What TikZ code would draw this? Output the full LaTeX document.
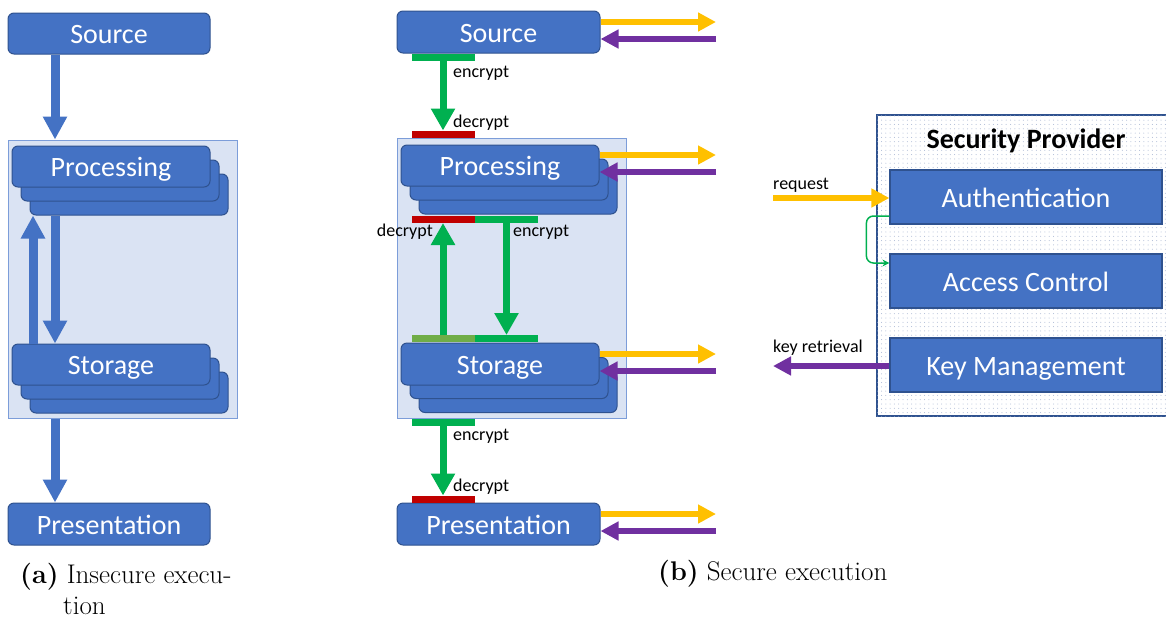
\documentclass[tikz,border=0pt]{standalone}
\usepackage{fontspec}
\newfontfamily\calibri{Carlito}
\usetikzlibrary{arrows.meta,patterns.meta}
\definecolor{boxblue}{HTML}{4472C4}
\definecolor{boxedge}{HTML}{2F528F}
\definecolor{contfill}{HTML}{DAE3F3}
\definecolor{contedge}{HTML}{7C9DD9}
\definecolor{encgreen}{HTML}{00B050}
\definecolor{decred}{HTML}{C00000}
\definecolor{olivegreen}{HTML}{70AD47}
\definecolor{reqyellow}{HTML}{FFC000}
\definecolor{keypurple}{HTML}{7030A0}
\definecolor{dotcol}{HTML}{A8B6D2}
\tikzset{
  box/.style={draw=boxedge, line width=1pt, fill=boxblue, rounded corners=6pt,
    minimum width=198pt, minimum height=41pt, inner sep=0pt, text=white,
    text height=20pt, text depth=0pt,
    font=\calibri\fontsize{28}{32}\selectfont},
  spbox/.style={draw=boxedge, line width=1.2pt, fill=boxblue, minimum width=272pt,
    minimum height=54pt, inner sep=0pt, text=white, text height=20pt, text depth=0pt,
    font=\calibri\fontsize{28}{32}\selectfont},
  cont/.style={draw=contedge, line width=1pt, fill=contfill, inner sep=0pt},
  bar/.style={minimum width=63pt, minimum height=7pt, inner sep=0pt, outer sep=0pt},
  bluearrow/.style={draw=boxblue, line width=9pt, -{Triangle[length=23pt,width=23pt]}},
  greenarrow/.style={draw=encgreen, line width=7pt, -{Triangle[length=22pt,width=23pt]}},
  yarrow/.style={draw=reqyellow, line width=6pt, -{Triangle[length=18pt,width=18pt]}},
  parrow/.style={draw=keypurple, line width=6pt, -{Triangle[length=18pt,width=18pt]}},
  lbl/.style={font=\calibri\fontsize{18}{20}\selectfont, inner sep=0pt},
  captxt/.style={font=\fontsize{27}{32}\selectfont, inner sep=0pt, anchor=base west},
}
\begin{document}
\begin{tikzpicture}[x=1pt,y=-1pt]
\useasboundingbox (0,0) rectangle (1166,619);
% ---------- (a) ----------
\coordinate (xa0) at (33,0);
\coordinate (xa1) at (55,0);
\node[cont, minimum width=229pt, minimum height=278pt] (contA) at (122.5,279) {};
\node[box] (procA3) at (129,194.5) {};
\node[box] (procA2) at (120,180.5) {};
\node[box] (procA) at (111,166.5) {Processing};
\node[box] (stoA3) at (129,392.5) {};
\node[box] (stoA2) at (120,378.5) {};
\node[box] (stoA) at (111,364.5) {Storage};
\node[box, minimum width=202pt] (srcA) at (109,33.5) {Source};
\node[box, minimum width=202pt, minimum height=42pt] (presA) at (109,524) {Presentation};
\draw[bluearrow] (srcA.south -| xa1) -- (contA.north -| xa1);
\draw[bluearrow] (stoA.north -| xa0) -- (procA3.south -| xa0);
\draw[bluearrow] (procA3.south -| xa1) -- (stoA.north -| xa1);
\draw[bluearrow] (contA.south -| xa1) -- (presA.north -| xa1);
\node[captxt] (capA1) at (20,583) {\textbf{(a)} Insecure execu-};
\node[captxt] (capA2) at (63,614) {tion};
% ---------- (b) ----------
\coordinate (xb1) at (443,0);
\coordinate (xb2) at (507,0);
\node[cont, minimum width=229pt, minimum height=280pt] (contB) at (511.5,278) {};
\node[box] (procB3) at (518,193.5) {};
\node[box] (procB2) at (509,179.5) {};
\node[box] (procB) at (500,165.5) {Processing};
\node[box] (stoB3) at (518,392) {};
\node[box] (stoB2) at (509,378) {};
\node[box, minimum height=42pt] (stoB) at (500,364) {Storage};
\node[box, minimum width=203pt, minimum height=42pt] (srcB) at (498.5,32) {Source};
\node[box, minimum width=203pt, minimum height=42pt] (presB) at (498.5,524) {Presentation};
% bars
\node[bar, fill=encgreen, anchor=north] (eSrc) at (srcB.south -| xb1) {};
\node[bar, fill=decred, anchor=south] (dProc) at (contB.north -| xb1) {};
\node[bar, fill=decred, anchor=north] (dProcB) at (443,216) {};
\node[bar, fill=encgreen, anchor=north] (eProcB) at (506.5,216) {};
\node[bar, fill=olivegreen, anchor=south] (oSto) at (443,342) {};
\node[bar, fill=encgreen, anchor=south] (eSto) at (506.5,342) {};
\node[bar, fill=encgreen, anchor=north] (eCont) at (contB.south -| xb1) {};
\node[bar, fill=decred, anchor=south] (dPres) at (presB.north -| xb1) {};
\draw[greenarrow] (eSrc.south) -- (dProc.north);
\draw[greenarrow] (oSto.north) -- (dProcB.south);
\draw[greenarrow] (eProcB.south) -- (eSto.north);
\draw[greenarrow] (eCont.south) -- (dPres.north);
\node[lbl, anchor=west] (l1) at (453,73) {encrypt};
\node[lbl, anchor=west] (l2) at (453,123) {decrypt};
\node[lbl, anchor=east] (l3) at (433,232) {decrypt};
\node[lbl, anchor=west] (l4) at (513,232) {encrypt};
\node[lbl, anchor=west] (l5) at (453,436) {encrypt};
\node[lbl, anchor=west] (l6) at (453,487) {decrypt};
% side arrows
\coordinate (ySrc) at (716,22);   \coordinate (pSrc) at (716,39);
\coordinate (yProc) at (716,155); \coordinate (pProc) at (716,172);
\coordinate (ySto) at (716,354);  \coordinate (pSto) at (716,371);
\coordinate (yPres) at (716,514); \coordinate (pPres) at (716,531);
\draw[yarrow] (srcB.east |- ySrc) -- (ySrc);
\draw[parrow] (pSrc) -- (srcB.east |- pSrc);
\draw[yarrow] (procB.east |- yProc) -- (yProc);
\draw[parrow] (pProc) -- (procB.east |- pProc);
\draw[yarrow] (stoB.east |- ySto) -- (ySto);
\draw[parrow] (pSto) -- (stoB.east |- pSto);
\draw[yarrow] (presB.east |- yPres) -- (yPres);
\draw[parrow] (pPres) -- (presB.east |- pPres);
\node[captxt] (capB) at (658,580) {\textbf{(b)} Secure execution};
% ---------- Security provider ----------
\node[draw=boxedge, line width=1.5pt, fill=white, inner sep=0pt,
  minimum width=295pt, minimum height=301pt,
  postaction={pattern={Dots[distance=4.3pt,radius=0.5pt]}, pattern color=dotcol}]
  (spcont) at (1024.5,265.5) {};
\node[font=\calibri\bfseries\fontsize{28}{32}\selectfont, inner sep=0pt] (sptitle) at (1026,141) {Security Provider};
\node[spbox] (auth) at (1026,197) {Authentication};
\node[spbox] (ac) at (1026,281) {Access Control};
\node[spbox] (km) at (1026,365) {Key Management};
\coordinate (reqS) at (773,198);
\coordinate (keyE) at (773,366);
\draw[yarrow] (reqS) -- (reqS -| auth.west);
\draw[parrow] (keyE -| km.west) -- (keyE);
\node[lbl, anchor=west] (lreq) at (773,185) {request};
\node[lbl, anchor=west] (lkey) at (773,348) {key retrieval};
\draw[encgreen, line width=1.5pt, rounded corners=7pt, -{Stealth[length=7pt,width=7pt]}]
  ([yshift=-19pt]auth.west) -- ++(-23,0) |- ([yshift=18pt]ac.west);
\end{tikzpicture}
\end{document}
